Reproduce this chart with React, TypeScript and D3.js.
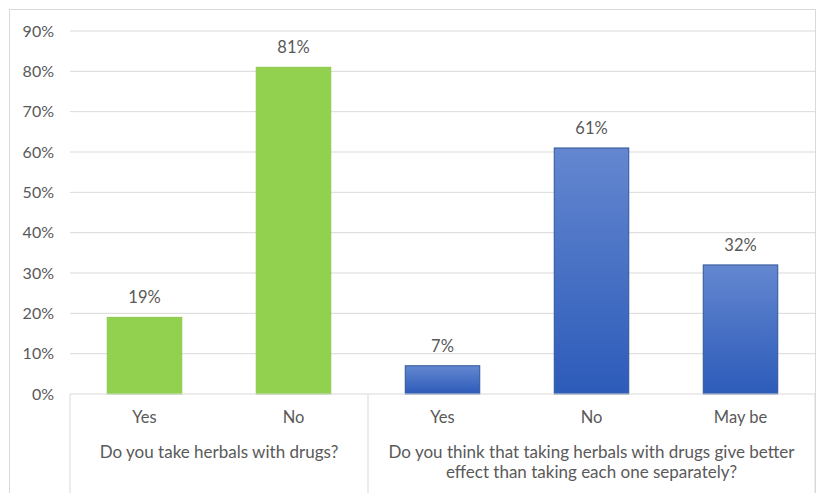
import React from "react";
import * as d3 from "d3";

const categories = ["Yes", "No", "Yes", "No", "May be"];
const values = [19, 81, 7, 61, 32];
const groupOf = [0, 0, 1, 1, 1];
const groupLabels = [
  ["Do you take herbals with drugs?"],
  ["Do you think that taking herbals with drugs give better", "effect than taking each one separately?"],
];
const yTicks = [0, 10, 20, 30, 40, 50, 60, 70, 80, 90];

const W = 826;
const H = 493;
const left = 70;
const right = 815;
const top = 31;
const bottom = 394;
const font = "Lato, Carlito, Calibri, sans-serif";
const textColor = "#595959";

export default function App() {
  const x = d3.scaleBand<number>().domain(d3.range(categories.length)).range([left, right]).paddingInner(0.5).paddingOuter(0.25);
  const band = d3.scaleBand<number>().domain(d3.range(categories.length)).range([left, right]);
  const y = d3.scaleLinear().domain([0, 90]).range([bottom, top]);
  const groups = d3.groups(d3.range(categories.length), (i) => groupOf[i]);

  return (
    <svg width={W} height={H} style={{ position: "absolute", left: 0, top: 0, background: "#fff" }}>
      <defs>
        <linearGradient id="blueGrad" x1="0" y1="0" x2="0" y2="1">
          <stop offset="0%" stopColor="#6487d0" />
          <stop offset="100%" stopColor="#2c5bb9" />
        </linearGradient>
      </defs>
      <rect x={9.5} y={9.5} width={806} height={H} fill="#fff" stroke="#d9d9d9" strokeWidth={1} />
      {yTicks.map((t) => (
        <g key={t}>
          {t > 0 && <line x1={left} x2={right} y1={y(t)} y2={y(t)} stroke="#d9d9d9" strokeWidth={1} />}
          <text x={54} y={y(t)} dy="0.35em" textAnchor="end" fontFamily={font} fontSize={16} fill={textColor}>
            {t}%
          </text>
        </g>
      ))}
      {values.map((v, i) => (
        <g key={i}>
          <rect
            x={x(i)}
            y={y(v)}
            width={x.bandwidth()}
            height={bottom - y(v)}
            fill={groupOf[i] === 0 ? "#92d050" : "url(#blueGrad)"}
            stroke={groupOf[i] === 0 ? "#8cc84b" : "#2f5597"}
            strokeWidth={1}
          />
          <text x={x(i)! + x.bandwidth() / 2} y={y(v) - 14} textAnchor="middle" fontFamily={font} fontSize={16.5} fill={textColor}>
            {v}%
          </text>
          <text x={band(i)! + band.bandwidth() / 2} y={423} textAnchor="middle" fontFamily={font} fontSize={16.5} fill={textColor}>
            {categories[i]}
          </text>
        </g>
      ))}
      <line x1={left} x2={right} y1={bottom} y2={bottom} stroke="#d9d9d9" strokeWidth={1} />
      {groups.map(([g, idx]) => {
        const x0 = band(idx[0])!;
        const x1 = band(idx[idx.length - 1])! + band.bandwidth();
        return (
          <g key={g}>
            {groupLabels[g].map((line, k) => (
              <text key={k} x={(x0 + x1) / 2} y={458 + k * 20} textAnchor="middle" fontFamily={font} fontSize={17} fill={textColor}>
                {line}
              </text>
            ))}
          </g>
        );
      })}
      {[left, band(2)!, right].map((xx, k) => (
        <line key={k} x1={xx} x2={xx} y1={bottom} y2={H} stroke="#d9d9d9" strokeWidth={1} />
      ))}
    </svg>
  );
}
